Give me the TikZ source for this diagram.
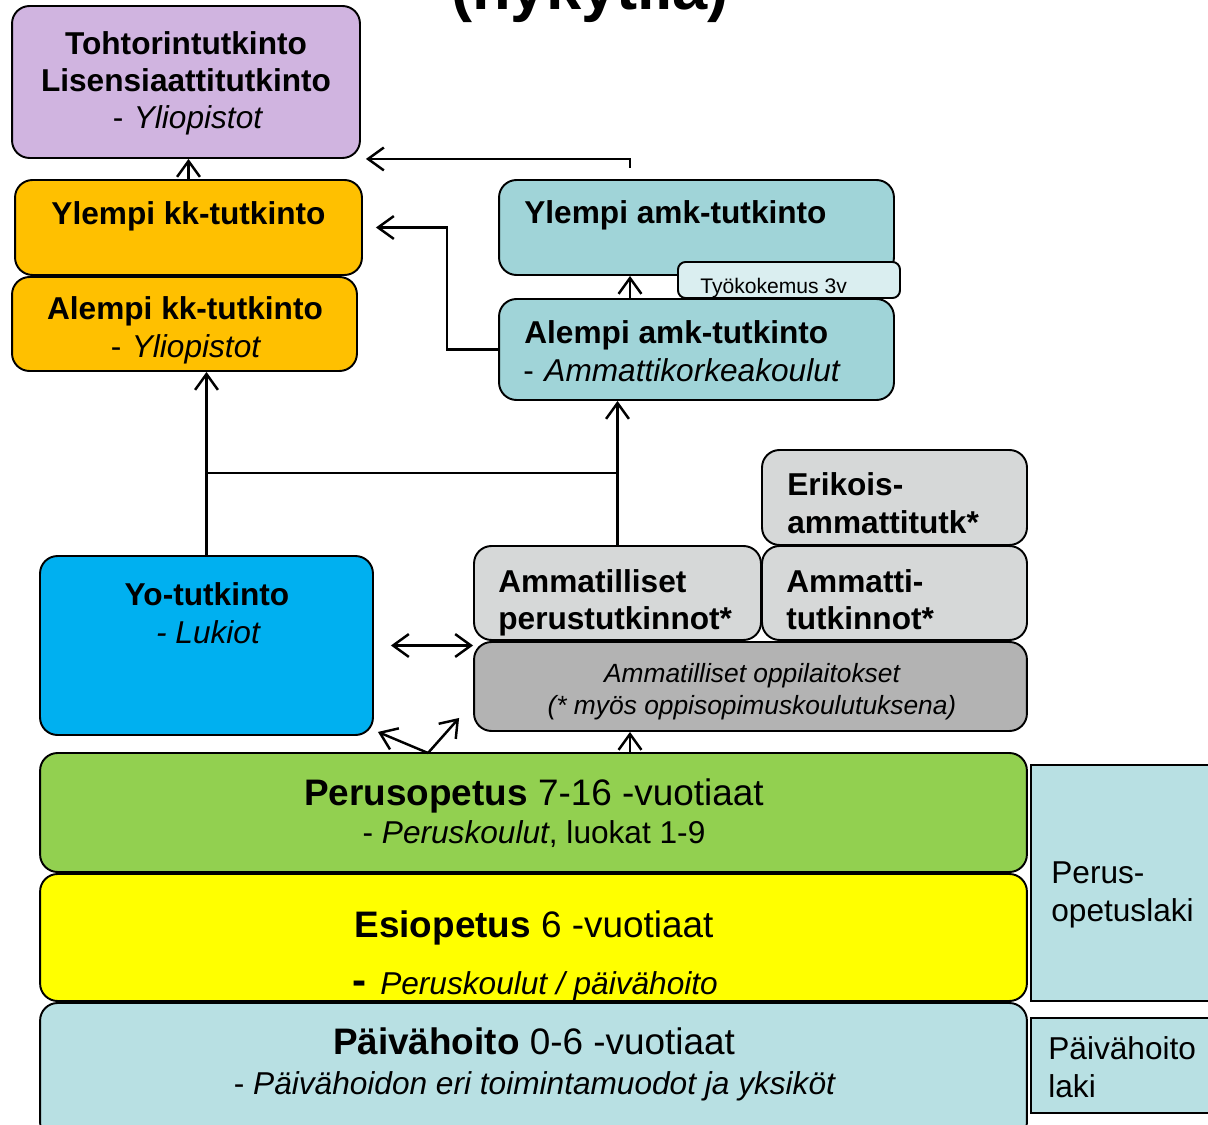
\documentclass[tikz,border=0pt]{standalone}
\usepackage{fontspec}
\setmainfont{Liberation Sans}
\usetikzlibrary{arrows.meta}
\definecolor{lila}{HTML}{D0B4E0}
\definecolor{kkorange}{HTML}{FFC000}
\definecolor{amkteal}{HTML}{A0D4D8}
\definecolor{amklight}{HTML}{DAEEF0}
\definecolor{ammgray}{HTML}{D6D8D8}
\definecolor{oppgray}{HTML}{B3B3B3}
\definecolor{lukioblue}{HTML}{00B0F0}
\definecolor{perusgreen}{HTML}{92D050}
\definecolor{esiyellow}{HTML}{FFFF00}
\definecolor{paivablue}{HTML}{B8E0E3}
\tikzset{
  kbox/.style={draw, line width=1.1pt, rounded corners=0.35cm, inner sep=0pt},
  lawbox/.style={draw, line width=1.1pt, fill=paivablue, inner sep=0pt},
  txt/.style={inner sep=0pt, font=\fontsize{18}{21}\selectfont},
  bigtxt/.style={inner sep=0pt, font=\fontsize{21}{25}\selectfont},
  smalltxt/.style={inner sep=0pt, font=\fontsize{12}{14}\selectfont},
  midtxt/.style={inner sep=0pt, font=\fontsize{15}{18}\selectfont\itshape},
  arr/.style={line width=1.4pt, -{Straight Barb[length=9pt,width=13pt]}},
  arrtwo/.style={line width=1.4pt, {Straight Barb[length=9pt,width=13pt]}-{Straight Barb[length=9pt,width=13pt]}}
}

\begin{document}
\begin{tikzpicture}[x=0.02cm, y=-0.02cm]
  \useasboundingbox (0,0) rectangle (1208,1125);
  \node[inner sep=0pt, font=\fontsize{36}{40}\selectfont\bfseries, anchor=base] (title) at (590,10) {(nykytila)};

  % korkeakoulut
  \node[kbox, fill=lila, minimum width=6.96cm, minimum height=3.04cm] (tohtori) at (186,82) {};
  \node[kbox, fill=kkorange, minimum width=6.94cm, minimum height=1.9cm] (ylempikk) at (188.5,227.5) {};
  \node[kbox, fill=kkorange, minimum width=6.9cm, minimum height=1.88cm] (alempikk) at (184.5,324) {};
  \node[kbox, fill=amkteal, minimum width=7.9cm, minimum height=1.9cm] (ylempiamk) at (696.5,227.5) {};
  \node[kbox, rounded corners=0.15cm, fill=amklight, minimum width=4.44cm, minimum height=0.72cm] (tyokokemus) at (789,280) {};
  \node[kbox, fill=amkteal, minimum width=7.9cm, minimum height=2.02cm] (alempiamk) at (696.5,349.5) {};

  % toinen aste
  \node[kbox, fill=ammgray, minimum width=5.3cm, minimum height=1.9cm] (erikois) at (894.5,497.5) {};
  \node[kbox, fill=ammgray, minimum width=5.74cm, minimum height=1.88cm] (ammperus) at (617.5,593) {};
  \node[kbox, fill=ammgray, minimum width=5.3cm, minimum height=1.88cm] (ammatti) at (894.5,593) {};
  \node[kbox, fill=oppgray, minimum width=11.06cm, minimum height=1.78cm] (ammopp) at (750.5,686.5) {};
  \node[kbox, fill=lukioblue, minimum width=6.66cm, minimum height=3.58cm] (yo) at (206.5,645.5) {};

  % perusaste
  \node[kbox, fill=perusgreen, minimum width=19.74cm, minimum height=2.38cm] (perus) at (533.5,812.5) {};
  \node[kbox, fill=esiyellow, minimum width=19.74cm, minimum height=2.54cm] (esi) at (533.5,937.5) {};
  \node[kbox, fill=paivablue, minimum width=19.74cm, minimum height=2.74cm] (paiva) at (533.5,1071.5) {};
  \node[lawbox, minimum width=3.68cm, minimum height=4.72cm] (peruslaki) at (1123,883) {};
  \node[lawbox, minimum width=3.68cm, minimum height=1.9cm] (paivalaki) at (1123,1065.5) {};

  % tekstit
  \node[txt, anchor=base] (tohtoriA) at (186,55) {\bfseries Tohtorintutkinto};
  \node[txt, anchor=base] (tohtoriB) at (186,92) {\bfseries Lisensiaattitutkinto};
  \node[txt, anchor=base] (tohtoriC) at (188,129) {-\hspace{6pt}\textit{Yliopistot}};
  \node[txt, anchor=base] (ylempikkA) at (188.5,225) {\bfseries Ylempi kk-tutkinto};
  \node[txt, anchor=base] (alempikkA) at (185,320) {\bfseries Alempi kk-tutkinto};
  \node[txt, anchor=base] (alempikkB) at (186,358) {-\hspace{6pt}\textit{Yliopistot}};
  \node[txt, anchor=base west] (ylempiamkA) at (524,224) {\bfseries Ylempi amk-tutkinto};
  \node[smalltxt, anchor=base west] (tyokokemusA) at (700,294) {Työkokemus 3v};
  \node[txt, anchor=base west] (alempiamkA) at (524,344) {\bfseries Alempi amk-tutkinto};
  \node[txt, anchor=base west] (alempiamkB) at (523,382) {-\hspace{6pt}\textit{Ammattikorkeakoulut}};
  \node[txt, anchor=base west] (erikoisA) at (787,496) {\bfseries Erikois-};
  \node[txt, anchor=base west] (erikoisB) at (787,533) {\bfseries ammattitutk*};
  \node[txt, anchor=base west] (ammperusA) at (498,592) {\bfseries Ammatilliset};
  \node[txt, anchor=base west] (ammperusB) at (498,629) {\bfseries perustutkinnot*};
  \node[txt, anchor=base west] (ammattiA) at (786,592) {\bfseries Ammatti-};
  \node[txt, anchor=base west] (ammattiB) at (786,629) {\bfseries tutkinnot*};
  \node[midtxt, anchor=base] (ammoppA) at (752,682) {Ammatilliset oppilaitokset};
  \node[midtxt, anchor=base] (ammoppB) at (752,714) {(* myös oppisopimuskoulutuksena)};
  \node[txt, anchor=base] (yoA) at (207,605) {\bfseries Yo-tutkinto};
  \node[txt, anchor=base] (yoB) at (208,643) {\itshape - Lukiot};
  \node[bigtxt, anchor=base] (perusA) at (534,805) {\textbf{Perusopetus} 7-16 -vuotiaat};
  \node[txt, anchor=base] (perusB) at (534,843) {- \textit{Peruskoulut}, luokat 1-9};
  \node[bigtxt, anchor=base] (esiA) at (534,937) {\textbf{Esiopetus} 6 -vuotiaat};
  \node[txt, anchor=base] (esiB) at (535,994) {{\fontsize{24}{28}\selectfont\bfseries -}\hspace{8pt}\textit{Peruskoulut / päivähoito}};
  \node[bigtxt, anchor=base] (paivaA) at (534,1054) {\textbf{Päivähoito} 0-6 -vuotiaat};
  \node[txt, anchor=base] (paivaB) at (535,1094) {- \textit{Päivähoidon eri toimintamuodot ja yksiköt}};
  \node[txt, anchor=base west] (peruslakiA) at (1051,883) {Perus-};
  \node[txt, anchor=base west] (peruslakiB) at (1051,921) {opetuslaki};
  \node[txt, anchor=base west] (paivalakiA) at (1048,1059) {Päivähoito};
  \node[txt, anchor=base west] (paivalakiB) at (1048,1097) {laki};

  % nuolet
  \coordinate (amkup) at (630,168);
  \coordinate (branch) at (207,473);
  \coordinate (fork) at (428,753);
  \draw[arr] (ylempikk.north) -- (ylempikk.north |- tohtori.south);
  \draw[arr] (amkup) |- ([xshift=0.1cm]tohtori.south east);
  \draw[arr] (alempiamk.west) -- ++(-51,0) |- ([xshift=0.26cm]ylempikk.east);
  \draw[arr] (alempiamk.north -| amkup) -- (ylempiamk.south -| amkup);
  \draw[arr] (ammperus.north) -- (ammperus.north |- alempiamk.south);
  \draw[line width=1.3pt] (branch) -- (branch -| ammperus.north);
  \draw[arr] (yo.north) -- (yo.north |- alempikk.south);
  \draw[arrtwo] ([xshift=0.34cm]yo.east) -- (yo.east -| ammopp.west);
  \draw[arr] (fork) -- ([shift={(4,-4)}]yo.south east);
  \draw[arr] (fork) -- ([shift={(-14,-14)}]ammopp.south west);
  \draw[arr] (perus.north -| amkup) -- (ammopp.south -| amkup);
\end{tikzpicture}
\end{document}
